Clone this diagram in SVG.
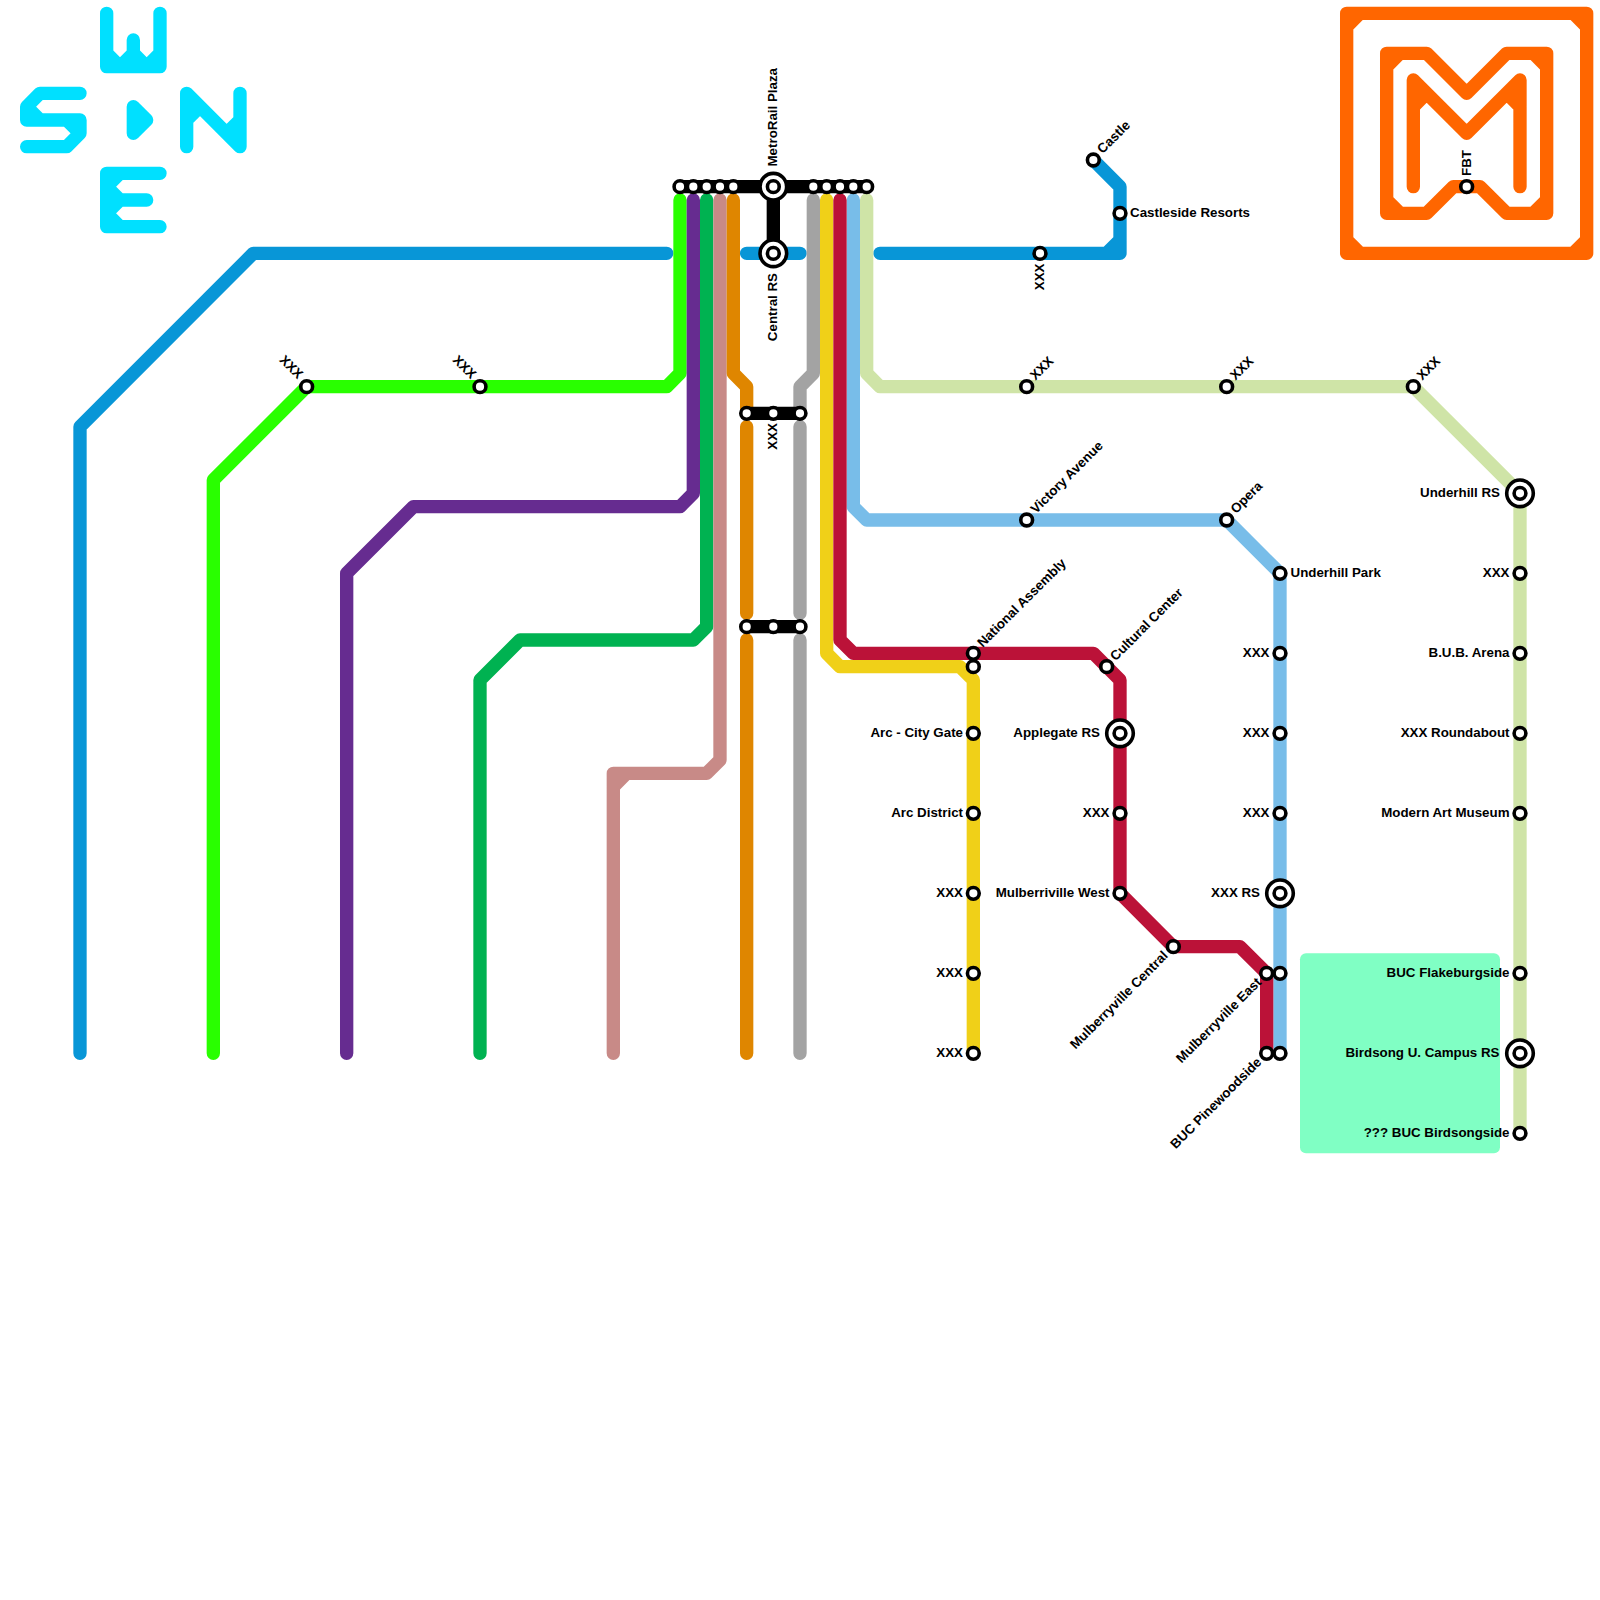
<svg xmlns="http://www.w3.org/2000/svg" width="1600" height="1600" viewBox="0 0 1600 1600">
<style>
.l{fill:none;stroke-width:1;stroke-linecap:round;stroke-linejoin:round}
text{font-family:"Liberation Sans",Arial,sans-serif;font-weight:700;font-size:13.33px;fill:#000}
.e{text-anchor:end}
.s{fill:#fff;stroke:#000;stroke-width:3.6}
</style>
<defs>
<g id="st"><circle class="s" r="5.9"/></g>
<g id="ic"><circle class="s" r="13.3"/><circle class="s" r="5.9"/></g>
</defs>
<rect id="park" x="1300" y="953.33" width="200" height="200" rx="6" fill="#80ffc4"/>
<g id="connectors" transform="scale(13.33333)">
<g id="logos">
<path class="l" stroke="#00e0ff" d="M8 1V5H12V1M10 3V5M8 4L9 5L10 4L11 5L12 4M6 7H3L2 8V9H6V10L5 11H2M2 8L3 9M5 9L6 10M10 8V10L11 9ZM14 11V7L18 11V7M14 9L15 8M18 9L17 10M12 13H8V17H12M8 15H11M8 14L9 13M8 14L9 15M8 16L9 15M8 16L9 17"/>
<path class="l" stroke="#ff6600" d="M101 1H119V19H101ZM101 2L102 1M118 1L119 2M119 18L118 19M102 19L101 18M104 4H107L110 7L113 4H116V16H113L111 14H109L107 16H104ZM104 5L105 4M115 4L116 5M116 15L115 16M105 16L104 15M106 14V6L110 10L114 6V14M106 8L107 7M114 8L113 7"/>
</g>
<path id="ln-blue" class="l" stroke="#0896d7" d="M6 79V32L19 19H50M56 19H60M66 19H84V14L82 12M83 19L84 18"/>
<path id="ln-green" class="l" stroke="#29ff00" d="M16 79V36L23 29H50L51 28V15"/>
<path id="ln-purple" class="l" stroke="#662c90" d="M26 79V43L31 38H51L52 37V15"/>
<path id="ln-dgreen" class="l" stroke="#00b251" d="M36 79V51L39 48H52L53 47V15"/>
<path id="ln-pink" class="l" stroke="#c88a87" d="M46 79V58H53L54 57V15M46 59L47 58"/>
<path id="ln-orange" class="l" stroke="#df8600" d="M55 15V28L56 29V31M56 32V46M56 48V79"/>
<path id="ln-gray" class="l" stroke="#a3a3a3" d="M61 15V28L60 29V31M60 32V46M60 48V79"/>
<path id="ln-sky" class="l" stroke="#78bde9" d="M64 15V38L65 39H92L96 43V79"/>
<path id="ln-pale" class="l" stroke="#cfe4a7" d="M65 15V28L66 29H106L114 37V85"/>
<path id="ln-yellow" class="l" stroke="#f0d018" d="M62 15V49L63 50H72L73 51V79"/>
<path id="ln-crimson" class="l" stroke="#bb1238" d="M63 15V48L64 49H82L84 51V67L88 71H93L95 73V79"/>
<path id="ln-black" class="l" stroke="#000" d="M51 14H65M58 14V19M56 31H60M56 47H60"/>
</g>
<g id="n-top"><use href="#st" x="680" y="186.67"/><use href="#st" x="693.33" y="186.67"/><use href="#st" x="706.67" y="186.67"/><use href="#st" x="720" y="186.67"/><use href="#st" x="733.33" y="186.67"/><use href="#st" x="813.33" y="186.67"/><use href="#st" x="826.67" y="186.67"/><use href="#st" x="840" y="186.67"/><use href="#st" x="853.33" y="186.67"/><use href="#st" x="866.67" y="186.67"/></g>
<g id="n-metrorail"><use href="#ic" x="773.33" y="186.67"/><text transform="translate(776.5 166.5) rotate(-90)">MetroRail Plaza</text></g>
<g id="n-central"><use href="#ic" x="773.33" y="253.33"/><text class="e" transform="translate(776.5 273) rotate(-90)">Central RS</text></g>
<g id="n-x1"><use href="#st" x="306.67" y="386.67"/><text class="e" transform="translate(297.5 379.5) rotate(45)">XXX</text></g>
<g id="n-x2"><use href="#st" x="480" y="386.67"/><text class="e" transform="translate(470.8 379.5) rotate(45)">XXX</text></g>
<g id="n-x3"><use href="#st" x="746.67" y="413.33"/><use href="#st" x="773.33" y="413.33"/><use href="#st" x="800" y="413.33"/><text class="e" transform="translate(776.5 423) rotate(-90)">XXX</text></g>
<g id="n-x4"><use href="#st" x="746.67" y="626.67"/><use href="#st" x="773.33" y="626.67"/><use href="#st" x="800" y="626.67"/></g>
<g id="n-castle"><use href="#st" x="1093.33" y="160"/><text transform="translate(1102.6 154.3) rotate(-45)">Castle</text></g>
<g id="n-castleside"><use href="#st" x="1120" y="213.33"/><text x="1130" y="216.8">Castleside Resorts</text></g>
<g id="n-x5"><use href="#st" x="1040" y="253.33"/><text class="e" transform="translate(1043.5 263.5) rotate(-90)">XXX</text></g>
<g id="n-x6"><use href="#st" x="1026.67" y="386.67"/><text transform="translate(1035.4 380.8) rotate(-45)">XXX</text></g>
<g id="n-x7"><use href="#st" x="1226.67" y="386.67"/><text transform="translate(1235.4 380.8) rotate(-45)">XXX</text></g>
<g id="n-x8"><use href="#st" x="1413.33" y="386.67"/><text transform="translate(1422.2 380.8) rotate(-45)">XXX</text></g>
<g id="n-victory"><use href="#st" x="1026.67" y="520"/><text transform="translate(1036 514.2) rotate(-45)">Victory Avenue</text></g>
<g id="n-opera"><use href="#st" x="1226.67" y="520"/><text transform="translate(1236 514.2) rotate(-45)">Opera</text></g>
<g id="n-national"><use href="#st" x="973.33" y="653.33"/><use href="#st" x="973.33" y="666.67"/><text transform="translate(982.8 648) rotate(-45)">National Assembly</text></g>
<g id="n-cultural"><use href="#st" x="1106.67" y="666.67"/><text transform="translate(1115.6 661.6) rotate(-45)">Cultural Center</text></g>
<g id="n-arc1"><use href="#st" x="973.33" y="733.33"/><text class="e" x="963" y="736.6">Arc - City Gate</text></g>
<g id="n-arc2"><use href="#st" x="973.33" y="813.33"/><text class="e" x="963" y="816.6">Arc District</text></g>
<g id="n-x9"><use href="#st" x="973.33" y="893.33"/><text class="e" x="963" y="896.6">XXX</text></g>
<g id="n-x10"><use href="#st" x="973.33" y="973.33"/><text class="e" x="963" y="976.6">XXX</text></g>
<g id="n-x11"><use href="#st" x="973.33" y="1053.33"/><text class="e" x="963" y="1056.6">XXX</text></g>
<g id="n-applegate"><use href="#ic" x="1120" y="733.33"/><text class="e" x="1100" y="736.6">Applegate RS</text></g>
<g id="n-x12"><use href="#st" x="1120" y="813.33"/><text class="e" x="1109.5" y="816.6">XXX</text></g>
<g id="n-mwest"><use href="#st" x="1120" y="893.33"/><text class="e" x="1109.5" y="896.6">Mulberriville West</text></g>
<g id="n-mcentral"><use href="#st" x="1173.33" y="946.67"/><text class="e" transform="translate(1168.7 956.5) rotate(-45)">Mulberryville Central</text></g>
<g id="n-meast"><use href="#st" x="1266.67" y="973.33"/><text class="e" transform="translate(1262.2 983) rotate(-45)">Mulberryville East</text></g>
<g id="n-pine"><use href="#st" x="1266.67" y="1053.33"/><text class="e" transform="translate(1262.2 1063) rotate(-45)">BUC Pinewoodside</text></g>
<g id="n-upark"><use href="#st" x="1280" y="573.33"/><text x="1290.5" y="576.6">Underhill Park</text></g>
<g id="n-x13"><use href="#st" x="1280" y="653.33"/><text class="e" x="1269.5" y="656.6">XXX</text></g>
<g id="n-x14"><use href="#st" x="1280" y="733.33"/><text class="e" x="1269.5" y="736.6">XXX</text></g>
<g id="n-x15"><use href="#st" x="1280" y="813.33"/><text class="e" x="1269.5" y="816.6">XXX</text></g>
<g id="n-xrs"><use href="#ic" x="1280" y="893.33"/><text class="e" x="1260" y="896.6">XXX RS</text></g>
<g id="n-b1"><use href="#st" x="1280" y="973.33"/></g>
<g id="n-b2"><use href="#st" x="1280" y="1053.33"/></g>
<g id="n-urs"><use href="#ic" x="1520" y="493.33"/><text class="e" x="1500" y="496.6">Underhill RS</text></g>
<g id="n-x16"><use href="#st" x="1520" y="573.33"/><text class="e" x="1509.5" y="576.6">XXX</text></g>
<g id="n-bub"><use href="#st" x="1520" y="653.33"/><text class="e" x="1509.5" y="656.6">B.U.B. Arena</text></g>
<g id="n-round"><use href="#st" x="1520" y="733.33"/><text class="e" x="1509.5" y="736.6">XXX Roundabout</text></g>
<g id="n-modern"><use href="#st" x="1520" y="813.33"/><text class="e" x="1509.5" y="816.6">Modern Art Museum</text></g>
<g id="n-flake"><use href="#st" x="1520" y="973.33"/><text class="e" x="1509.5" y="976.6">BUC Flakeburgside</text></g>
<g id="n-birdsong"><use href="#ic" x="1520" y="1053.33"/><text class="e" x="1499.5" y="1056.6">Birdsong U. Campus RS</text></g>
<g id="n-bird2"><use href="#st" x="1520" y="1133.33"/><text class="e" x="1509.5" y="1136.6">??? BUC Birdsongside</text></g>
<g id="n-fbt"><use href="#st" x="1466.67" y="186.67"/><text transform="translate(1470.5 176) rotate(-90)">FBT</text></g>
</svg>
